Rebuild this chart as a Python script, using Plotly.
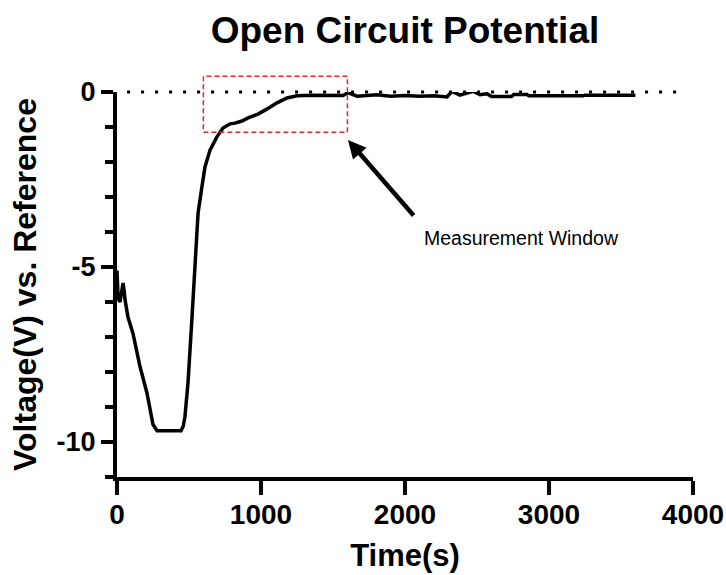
import plotly.graph_objects as go

# Data
time_s = [0, 8, 21, 32, 42, 50, 56, 76, 111, 160, 208, 250, 278, 444, 460, 472, 493, 521,
          542, 563, 590, 611, 646, 694, 736, 785, 819, 868, 910, 979, 1040, 1111, 1181, 1250,
          1361, 1450, 1569, 1604, 1667, 1805, 1900, 2000, 2100, 2200, 2292, 2326, 2382, 2472,
          2521, 2569, 2600, 2740, 2755, 2847, 2860, 3236, 3250, 3600]
voltage = [-5.1, -5.9, -6.0, -5.7, -5.46, -5.7, -5.94, -6.43, -6.9, -7.85, -8.6, -9.5, -9.68,
           -9.68, -9.55, -9.27, -8.31, -6.43, -4.8, -3.46, -2.7, -2.14, -1.66, -1.28, -1.03,
           -0.91, -0.89, -0.83, -0.74, -0.63, -0.49, -0.31, -0.17, -0.11, -0.09, -0.1, -0.1,
           -0.02, -0.12, -0.08, -0.12, -0.1, -0.12, -0.11, -0.14, 0.02, -0.09, 0.02, -0.08,
           -0.05, -0.13, -0.13, -0.07, -0.07, -0.11, -0.11, -0.09, -0.09]

x_ticks = [0, 1000, 2000, 3000, 4000]
y_ticks = [-10, -5, 0]
x_range = [0, 4000]
y_range = [-11, 0]
zero_line_x = [70, 3930]

window_x = [600, 1600]
window_y = [-1.15, 0.45]
arrow_head = (1604, -1.37)
arrow_tail = (2069, -3.57)
label_pos = (2812, -4.17)

title = "Open Circuit Potential"
x_title = "Time(s)"
y_title = "Voltage(V) vs. Reference"
note = "Measurement Window"

FONT = "Liberation Sans, Arial, sans-serif"


def to_paper(v):
    return (v - y_range[0]) / (y_range[1] - y_range[0])


fig = go.Figure()
fig.add_trace(go.Scatter(x=time_s, y=voltage, mode="lines",
                         line=dict(color="black", width=3.5), showlegend=False))

# dotted zero line
fig.add_shape(type="line", xref="x", yref="paper", x0=zero_line_x[0], x1=zero_line_x[1],
              y0=to_paper(0), y1=to_paper(0),
              line=dict(color="black", width=3, dash="3px,11px"))
# measurement window box
fig.add_shape(type="rect", xref="x", yref="paper", x0=window_x[0], x1=window_x[1],
              y0=to_paper(window_y[0]), y1=to_paper(window_y[1]),
              line=dict(color="#E5262E", width=1.5, dash="5px,3px"))

fig.add_annotation(x=arrow_head[0], y=arrow_head[1], ax=arrow_tail[0], ay=arrow_tail[1],
                   xref="x", yref="y", axref="x", ayref="y", text="", showarrow=True,
                   arrowhead=2, arrowsize=0.8, arrowwidth=4.5, arrowcolor="black",
                   standoff=0, startstandoff=0)
fig.add_annotation(x=label_pos[0], y=label_pos[1], xref="x", yref="y", text=note,
                   showarrow=False, font=dict(family=FONT, size=19.5, color="black"))

fig.update_layout(
    width=726, height=575,
    margin=dict(l=117, r=33, t=92, b=98, autoexpand=False),
    paper_bgcolor="white", plot_bgcolor="white",
    title=dict(text=title, x=0.5, xref="paper", xanchor="center", y=0.948, yanchor="middle",
               font=dict(family=FONT, size=37, color="black", weight="bold"),
               automargin=False),
    font=dict(family=FONT, color="black"),
)
fig.update_xaxes(range=x_range, tickvals=x_ticks, ticktext=[str(v) for v in x_ticks],
                 showline=True, linewidth=4, linecolor="black", ticks="outside",
                 ticklen=14, tickwidth=3.5, tickcolor="black", showgrid=False, zeroline=False,
                 automargin=False, ticklabelstandoff=-5,
                 tickfont=dict(family=FONT, size=28, weight="bold"),
                 title=dict(text=x_title, font=dict(family=FONT, size=31, weight="bold"),
                            standoff=17))
fig.update_yaxes(range=y_range, tickvals=y_ticks, ticktext=[str(v) for v in y_ticks],
                 showline=True, linewidth=4, linecolor="black", ticks="outside",
                 ticklen=12, tickwidth=3.5, tickcolor="black", showgrid=False, zeroline=False,
                 automargin=False,
                 minor=dict(dtick=1, tick0=0, ticks="outside", ticklen=8, tickwidth=3.5,
                            tickcolor="black", showgrid=False),
                 tickfont=dict(family=FONT, size=27, weight="bold"),
                 title=dict(text=y_title, font=dict(family=FONT, size=32, weight="bold"),
                            standoff=11))

fig.write_html("out.html")
